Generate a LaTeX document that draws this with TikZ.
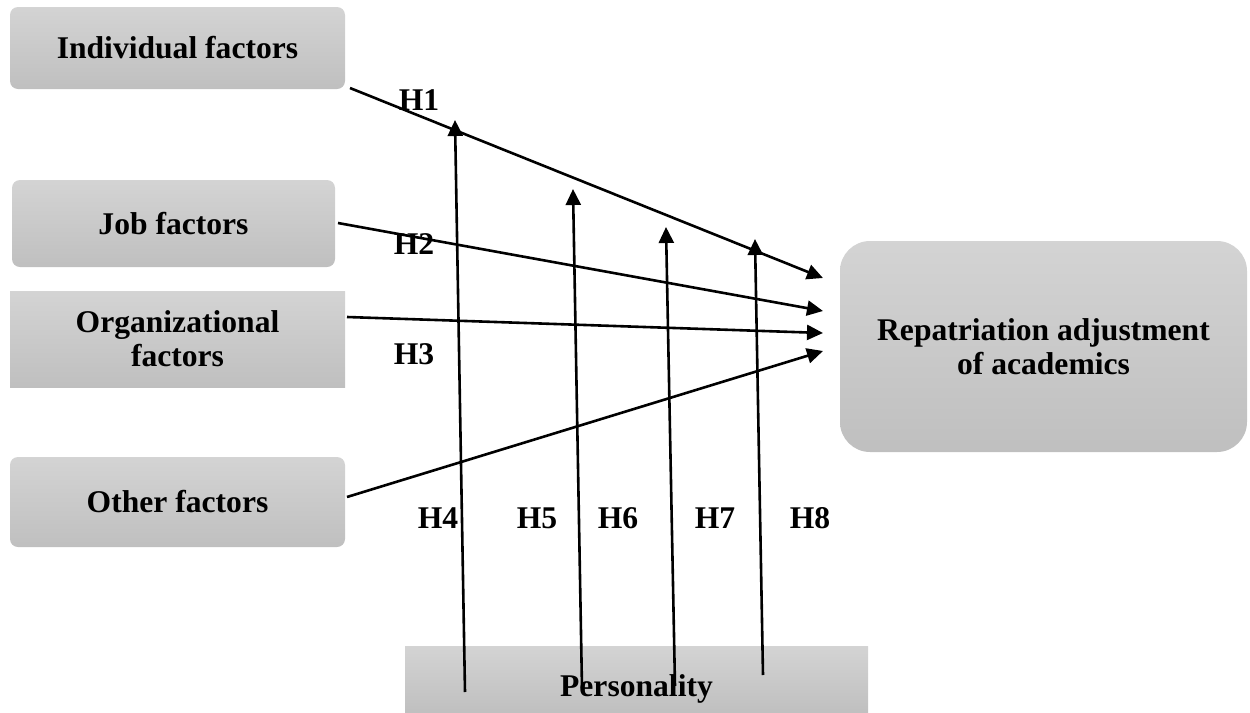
\documentclass[tikz,border=0pt]{standalone}
\usepackage{fontspec}
\setmainfont{Liberation Serif}
\usetikzlibrary{arrows.meta}
\begin{document}
\begin{tikzpicture}[x=0.5pt,y=-0.5pt,
  every node/.style={font=\fontsize{15.8}{17}\selectfont\bfseries, inner sep=0pt},
  factor/.style={top color=black!17, bottom color=black!25, draw=none,
    align=center, minimum width=#1},
  roundbox/.style={factor=#1, rounded corners=4pt},
  squarebox/.style={factor=#1},
  link/.style={line width=1.3pt, -{Triangle[length=8pt,width=7.5pt]}},
  hyp/.style={font=\fontsize{15.8}{17}\selectfont\bfseries}
]
\useasboundingbox (0,0) rectangle (1250,713);

% source factors
\node[roundbox=167.5pt, minimum height=41pt] (ind) at (177.5,48) {Individual factors};
\node[roundbox=161.5pt, minimum height=43.5pt] (job) at (173.5,223.5) {Job factors};
\node[squarebox=167.5pt, minimum height=48pt] (org) at (177.5,339) {Organizational\\factors};
\node[roundbox=167.5pt, minimum height=45pt] (oth) at (177.5,502) {Other factors};

% outcome
\node[factor=203.5pt, minimum height=105.5pt, rounded corners=15pt] (rep) at (1043.5,346.5)
  {Repatriation adjustment\\of academics};

% moderator
\node[squarebox=231.5pt, minimum height=33.5pt, text depth=0pt] (per) at (636.5,679.5)
  {\raisebox{-6pt}{Personality}};

% arrow end points
\coordinate (t1) at (823,278);
\coordinate (t2) at (823,311);
\coordinate (t3) at (823,333);
\coordinate (t4) at (823,351);

\coordinate (s1) at (350,88);
\coordinate (s2) at (338,223);
\coordinate (s3) at (347,317);
\coordinate (s4) at (347,497);

\draw[link] (s1) -- (t1);
\draw[link] (s2) -- (t2);
\draw[link] (s3) -- (t3);
\draw[link] (s4) -- (t4);

% moderating arrows from personality
\coordinate (p4) at (465,692);
\coordinate (p5) at (582,688);
\coordinate (p6) at (675,686);
\coordinate (p7) at (763,675);
\coordinate (m4) at (455,120);
\coordinate (m5) at (573,189);
\coordinate (m6) at (666,227);
\coordinate (m7) at (755,239);

\draw[link] (p4) -- (m4);
\draw[link] (p5) -- (m5);
\draw[link] (p6) -- (m6);
\draw[link] (p7) -- (m7);

% hypothesis labels
\node[hyp] (h1) at (419,100) {H1};
\node[hyp] (h2) at (414,244) {H2};
\node[hyp] (h3) at (414,354) {H3};
\node[hyp] (h4) at (438,518) {H4};
\node[hyp] (h5) at (537,518) {H5};
\node[hyp] (h6) at (618,518) {H6};
\node[hyp] (h7) at (715,518) {H7};
\node[hyp] (h8) at (810,518) {H8};
\end{tikzpicture}
\end{document}
